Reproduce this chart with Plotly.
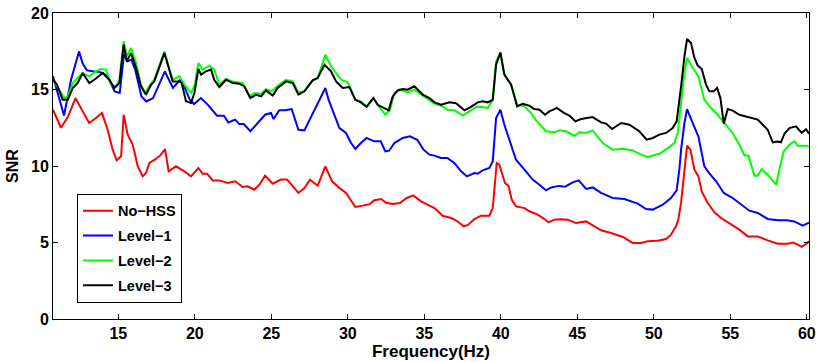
import plotly.graph_objects as go

# ---------------- data ----------------
freq_nohss = [10.73, 11.25, 11.7, 12.2, 12.67, 13.1, 13.54, 13.93, 14.3, 14.63,
              14.89, 15.18, 15.35, 15.61, 15.94, 16.27, 16.59, 16.81, 17.03, 17.46,
              17.79, 18.05, 18.29, 18.77, 19.32, 19.75, 20.23, 20.51, 20.8, 21.17,
              21.6, 22.15, 22.63, 23.13, 23.45, 23.89, 24.22, 24.59, 25.09, 25.63,
              26.03, 26.4, 26.77, 27.16, 27.53, 28.03, 28.53, 28.97, 29.45, 29.88,
              30.49, 30.97, 31.4, 31.73, 32.17, 32.5, 32.93, 33.4, 33.85, 34.28,
              34.78, 35.33, 35.66, 36.2, 36.75, 37.07, 37.57, 37.85, 38.27, 38.71,
              39.25, 39.47, 39.73, 39.9, 40.12, 40.27, 40.5, 40.71, 40.99, 41.54,
              41.86, 42.41, 42.85, 43.11, 43.5, 43.9, 44.37, 44.92, 45.57, 45.9,
              46.55, 47.2, 47.97, 48.62, 49.16, 49.6, 50.25, 50.8, 51.12, 51.45,
              51.6, 51.78, 52.0, 52.17, 52.39, 52.65, 52.91, 53.13, 53.52, 53.96,
              54.39, 54.94, 55.59, 56.14, 56.79, 57.44, 58.1, 58.75, 59.1, 59.4,
              59.66, 59.95, 60.14]
snr_nohss = [13.68, 12.5, 13.2, 14.44, 13.57, 12.81, 13.14, 13.46, 12.37, 11.07,
             10.37, 10.63, 13.35, 12.05, 11.39, 9.98, 9.32, 9.54, 10.2, 10.46,
             10.74, 11.11, 9.65, 9.98, 9.65, 9.32, 9.87, 9.5, 9.5, 9.06,
             9.06, 8.89, 9.0, 8.63, 8.67, 8.45, 8.78, 9.37, 8.84, 9.11,
             9.11, 8.67, 8.24, 8.56, 9.11, 8.71, 9.98, 9.0, 8.56, 8.24,
             7.32, 7.41, 7.5, 7.76, 7.84, 7.6, 7.52, 7.58, 7.91, 8.08,
             7.69, 7.41, 7.25, 6.75, 6.6, 6.45, 6.06, 6.15, 6.53, 6.75,
             6.75, 7.25, 10.2, 10.09, 9.32, 8.89, 8.7, 7.8, 7.36, 7.25,
             7.04, 6.82, 6.53, 6.32, 6.49, 6.52, 6.49, 6.27, 6.38, 6.17,
             5.8, 5.62, 5.36, 4.97, 4.97, 5.08, 5.12, 5.23, 5.51, 6.06,
             6.5, 7.6, 9.76, 11.33, 11.07, 9.76, 9.32, 8.34, 7.58, 6.97,
             6.6, 6.23, 5.84, 5.4, 5.4, 5.14, 4.92, 4.92, 5.0, 4.86,
             4.71, 4.9, 5.08]

freq_level1 = [10.73, 11.1, 11.45, 11.91, 12.43, 12.67, 12.95, 13.32, 13.57, 13.98,
               14.3, 14.76, 15.09, 15.37, 15.6, 15.85, 16.1, 16.51, 16.83, 17.27,
               17.6, 18.04, 18.57, 19.01, 19.2, 19.67, 19.95, 20.4, 20.84, 21.45,
               21.9, 22.19, 22.63, 22.91, 23.2, 23.63, 24.11, 24.59, 24.98, 25.15,
               25.52, 25.9, 26.33, 26.77, 27.16, 27.5, 28.03, 28.53, 28.75, 29.05,
               29.45, 29.88, 30.21, 30.49, 30.85, 31.23, 31.73, 32.15, 32.45, 32.7,
               33.04, 33.59, 34.07, 34.55, 34.94, 35.33, 35.66, 36.09, 36.5, 36.96,
               37.4, 37.79, 38.27, 38.5, 38.81, 39.25, 39.47, 39.69, 39.97, 40.23,
               40.56, 40.99, 41.54, 42.08, 42.52, 42.95, 43.3, 43.8, 44.2, 44.7,
               45.09, 45.57, 46.0, 46.55, 47.31, 48.07, 48.95, 49.49, 49.93, 50.58,
               51.12, 51.49, 51.67, 51.78, 52.0, 52.17, 52.54, 52.91, 53.3, 53.6,
               54.07, 54.57, 55.15, 55.7, 56.24, 56.79, 57.44, 58.1, 58.7, 59.18,
               59.73, 60.14]
snr_level1 = [15.86, 14.6, 13.3, 15.64, 17.49, 16.7, 16.25, 16.19, 16.18, 16.08,
              15.86, 14.88, 14.77, 17.3, 16.84, 16.95, 16.3, 14.55, 14.22, 14.44,
              15.2, 16.18, 15.1, 15.6, 15.45, 14.33, 14.05, 14.44, 14.01, 13.29,
              13.29, 12.85, 13.03, 12.74, 12.74, 12.27, 12.81, 13.35, 13.46, 13.07,
              13.64, 13.64, 13.72, 12.37, 12.33, 13.03, 14.01, 15.1, 14.3, 13.46,
              12.48, 12.16, 11.5, 11.11, 11.5, 11.83, 11.61, 11.61, 10.96, 11.0,
              11.5, 11.83, 11.94, 11.7, 11.07, 10.74, 10.68, 10.52, 10.52, 10.2,
              9.65, 9.32, 9.54, 9.5, 9.72, 9.87, 10.3, 13.14, 13.68, 12.7,
              11.72, 10.41, 9.76, 9.11, 8.78, 8.41, 8.6, 8.7, 8.65, 8.93,
              9.06, 8.5, 8.6, 8.24, 7.91, 7.84, 7.54, 7.19, 7.15, 7.47,
              7.91, 8.41, 9.8, 11.07, 12.81, 13.72, 12.81, 11.94, 9.98, 9.55,
              9.0, 8.24, 7.91, 7.47, 7.08, 6.93, 6.54, 6.45, 6.45, 6.38,
              6.1, 6.3]

freq_level2 = [10.73, 11.15, 11.47, 11.7, 12.02, 12.34, 12.67, 13.1, 13.54, 13.87,
               14.2, 14.52, 14.85, 15.07, 15.35, 15.55, 15.83, 16.16, 16.48, 16.77,
               17.0, 17.35, 17.68, 18.01, 18.29, 18.55, 18.99, 19.32, 19.75, 20.0,
               20.23, 20.51, 20.95, 21.27, 21.6, 22.04, 22.47, 23.13, 23.56, 23.89,
               24.33, 24.65, 25.03, 25.41, 25.96, 26.4, 26.77, 27.16, 27.38, 27.7,
               28.03, 28.53, 28.9, 29.23, 29.56, 29.99, 30.49, 30.85, 31.23, 31.67,
               32.0, 32.45, 32.76, 33.04, 33.37, 33.91, 34.35, 34.9, 35.33, 35.66,
               36.09, 36.53, 36.96, 37.51, 37.95, 38.38, 38.81, 39.14, 39.47, 39.69,
               39.97, 40.23, 40.67, 41.06, 41.54, 41.97, 42.3, 42.63, 42.95, 43.5,
               43.83, 44.26, 44.81, 45.13, 45.57, 46.0, 46.66, 47.31, 47.97, 48.62,
               49.16, 49.6, 50.36, 50.91, 51.34, 51.56, 51.78, 52.0, 52.17, 52.54,
               52.91, 53.3, 53.74, 54.17, 54.61, 55.15, 55.59, 55.92, 56.18, 56.57,
               56.79, 57.05, 57.44, 57.99, 58.2, 58.49, 58.86, 59.18, 59.4, 59.95,
               60.14]
snr_level2 = [15.64, 14.99, 14.44, 14.55, 15.42, 15.75, 16.08, 15.86, 16.19, 16.34,
              16.3, 15.32, 15.2, 15.64, 18.15, 17.17, 17.71, 16.73, 15.32, 14.77,
              15.2, 15.64, 16.51, 17.49, 16.51, 15.64, 15.86, 15.32, 14.77, 15.32,
              16.73, 16.3, 16.56, 16.3, 15.32, 15.69, 15.53, 15.42, 14.55, 14.77,
              14.73, 15.03, 14.88, 15.25, 15.64, 15.53, 14.81, 14.88, 15.2, 15.6,
              15.75, 17.28, 16.5, 16.08, 15.64, 15.47, 14.33, 14.23, 13.9, 14.44,
              13.94, 13.35, 13.68, 14.77, 14.99, 14.81, 14.99, 14.6, 14.33, 14.08,
              13.94, 13.68, 13.64, 13.29, 13.57, 13.86, 13.86, 13.79, 14.33, 16.84,
              17.38, 15.97, 15.32, 14.01, 13.9, 13.46, 12.98, 12.59, 12.27, 12.2,
              12.33, 12.27, 11.98, 12.2, 12.16, 12.33, 11.5, 11.07, 11.12, 11.02,
              10.74, 10.59, 10.8, 11.17, 11.5, 12.16, 14.33, 16.08, 17.06, 16.41,
              15.86, 14.33, 13.79, 13.35, 12.81, 12.16, 11.39, 10.68, 10.68, 9.37,
              9.37, 9.8, 9.43, 8.78, 9.76, 10.96, 11.39, 11.61, 11.33, 11.33,
              11.25]

freq_level3 = [10.73, 11.0, 11.36, 11.7, 12.02, 12.34, 12.67, 13.1, 13.43, 13.98,
               14.41, 14.74, 15.07, 15.35, 15.55, 15.83, 16.16, 16.48, 16.81, 17.14,
               17.35, 17.68, 18.01, 18.33, 18.55, 18.99, 19.14, 19.42, 19.75, 19.97,
               20.23, 20.41, 20.73, 21.06, 21.27, 21.6, 22.04, 22.47, 22.91, 23.24,
               23.63, 24.0, 24.33, 24.65, 25.09, 25.41, 25.96, 26.4, 26.77, 27.16,
               27.38, 27.7, 28.03, 28.47, 28.9, 29.23, 29.66, 30.1, 30.49, 30.85,
               31.23, 31.67, 31.95, 32.67, 32.93, 33.26, 33.59, 33.91, 34.35, 34.9,
               35.33, 35.66, 36.09, 36.64, 37.07, 37.62, 38.05, 38.49, 38.81, 39.14,
               39.47, 39.69, 39.97, 40.23, 40.67, 41.06, 41.43, 41.86, 42.19, 42.52,
               42.89, 43.17, 43.5, 43.65, 44.15, 44.48, 44.87, 45.24, 46.0, 46.55,
               46.88, 47.27, 47.86, 48.4, 49.05, 49.53, 49.93, 50.36, 50.8, 51.23,
               51.49, 51.67, 51.78, 52.0, 52.17, 52.43, 52.65, 52.87, 53.13, 53.41,
               53.63, 53.91, 54.13, 54.35, 54.57, 54.83, 55.15, 55.59, 56.14, 56.79,
               57.12, 57.44, 57.77, 58.1, 58.31, 58.53, 58.86, 59.29, 59.66, 59.95,
               60.14]
snr_level3 = [15.64, 15.3, 14.33, 14.33, 15.1, 15.42, 16.08, 15.42, 15.64, 16.08,
              15.64, 15.1, 15.42, 17.93, 16.84, 17.38, 16.4, 15.2, 14.66, 15.3,
              15.53, 16.4, 17.38, 16.3, 15.53, 15.53, 15.42, 14.23, 14.12, 14.77,
              16.34, 15.97, 16.19, 16.3, 15.64, 15.16, 15.64, 15.42, 15.38, 15.2,
              14.44, 14.66, 14.55, 14.94, 14.6, 15.1, 15.53, 15.42, 14.66, 14.88,
              15.2, 15.6, 15.75, 16.62, 16.19, 15.53, 15.1, 15.16, 14.33, 14.16,
              13.86, 14.44, 14.0, 13.64, 14.55, 14.94, 15.03, 14.99, 15.21, 14.66,
              14.44, 14.16, 14.01, 14.16, 14.1, 13.64, 13.86, 14.16, 14.23, 14.16,
              14.33, 16.62, 17.43, 15.97, 15.32, 13.9, 14.07, 13.94, 13.72, 13.68,
              13.35, 13.57, 13.72, 13.8, 13.46, 13.3, 12.92, 13.07, 13.2, 12.85,
              12.77, 12.42, 12.81, 12.7, 12.27, 11.72, 11.83, 12.05, 12.16, 12.48,
              12.92, 14.23, 15.21, 17.17, 18.3, 18.04, 17.06, 16.56, 16.34, 15.32,
              14.88, 14.88, 15.1, 14.44, 12.77, 13.72, 13.62, 13.35, 13.2, 13.03,
              12.7, 12.37, 11.55, 11.6, 11.55, 12.11, 12.48, 12.59, 12.16, 12.4,
              12.11]

series_names = ["No\u2212HSS", "Level\u22121", "Level\u22122", "Level\u22123"]
series_colors = ["#ff0000", "#0000ff", "#00ff00", "#000000"]
x_ticks = [15, 20, 25, 30, 35, 40, 45, 50, 55, 60]
y_ticks = [0, 5, 10, 15, 20]

series = [(freq_nohss, snr_nohss), (freq_level1, snr_level1),
          (freq_level2, snr_level2), (freq_level3, snr_level3)]
for fx, sy in series:
    assert len(fx) == len(sy), (len(fx), len(sy))

FONT = "Liberation Sans"

fig = go.Figure()
for i, ((fx, sy), name, col) in enumerate(zip(series, series_names, series_colors)):
    fig.add_trace(go.Scatter(
        x=fx, y=sy, mode="lines", name=name, legendgroup=f"g{i}",
        line=dict(color=col, width=2)))

axis_common = dict(
    showline=True, linecolor="black", linewidth=1, mirror="allticks",
    ticks="inside", ticklen=5, tickcolor="black", tickwidth=1,
    showgrid=False, zeroline=False, automargin=False,
    ticklabeloverflow="allow",
    tickfont=dict(family=FONT, size=16, color="black", weight="bold"),
)

fig.update_layout(
    width=818, height=362,
    margin=dict(l=53, r=9, t=13, b=43),
    paper_bgcolor="white", plot_bgcolor="white",
    xaxis=dict(range=[10.73, 60.14], tickvals=x_ticks, ticktext=[str(t) for t in x_ticks],
               title=dict(text="Frequency(Hz)", standoff=0,
                          font=dict(family=FONT, size=17, color="black", weight="bold")),
               **axis_common),
    yaxis=dict(range=[0, 20], tickvals=y_ticks, ticktext=[str(t) for t in y_ticks],
               title=dict(text="SNR", standoff=8,
                          font=dict(family=FONT, size=16, color="black", weight="bold")),
               **axis_common),
    legend=dict(x=0.0317, y=0.409, xanchor="left", yanchor="top",
                bgcolor="white", bordercolor="black", borderwidth=1,
                font=dict(family=FONT, size=14.5, color="black", weight="bold"),
                traceorder="grouped", tracegroupgap=3, itemwidth=30),
    showlegend=True,
)

# remove the page's default 8px body margin so the 818x362 figure fills the window
fig.write_html("out.html", config={"displayModeBar": False},
               post_script="document.body.style.margin='0px';")
